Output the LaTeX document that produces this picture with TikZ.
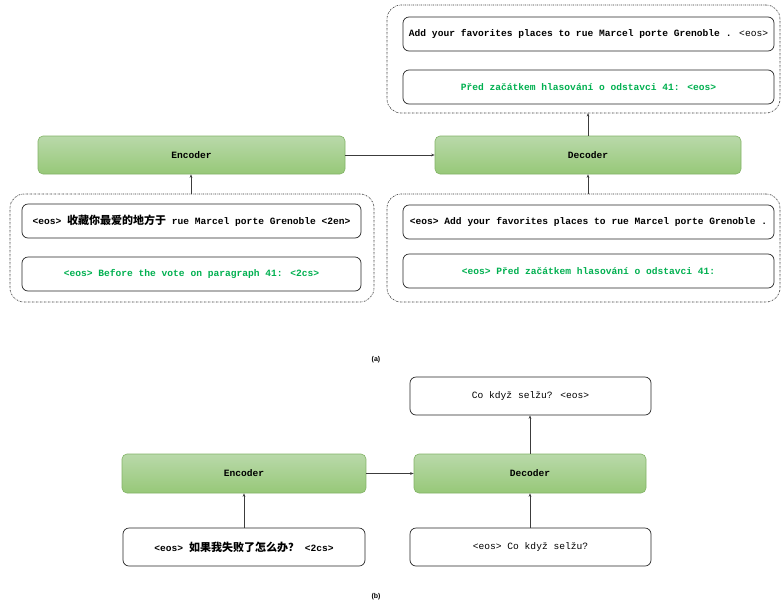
\documentclass[tikz,border=0pt]{standalone}
\usepackage{fontspec}
\setmainfont{Liberation Mono}
\newfontfamily\cjkfam{Noto Sans CJK SC}
\newcommand\cjk{\cjkfam\fontsize{11}{12}\selectfont}
\newfontfamily\labfont{Liberation Sans}
\usetikzlibrary{arrows.meta}
\definecolor{gfillA}{RGB}{185,217,170}
\definecolor{gfillB}{RGB}{151,200,120}
\definecolor{gborder}{RGB}{130,179,102}
\definecolor{gtext}{RGB}{0,176,80}
\definecolor{lgray}{RGB}{60,60,60}
\tikzset{
  coder/.style={draw=gborder, line width=0.6pt, rounded corners=5pt, top color=gfillA, bottom color=gfillB,
    font=\bfseries\fontsize{9.6}{11}\selectfont, inner sep=0pt},
  tok/.style={draw=black!85, line width=0.7pt, rounded corners=6pt, fill=white,
    font=\bfseries\fontsize{9.6}{11}\selectfont, inner sep=0pt},
  tokn/.style={tok, font=\fontsize{9.6}{11}\selectfont},
  grp/.style={draw=black!80, line width=0.6pt, rounded corners=14pt, dash pattern=on 1.5pt off 1pt on 0.5pt off 1pt, inner sep=0pt},
  arr/.style={draw=lgray, line width=0.6pt, -{Stealth[length=3.5pt,width=2.6pt]}},
  lab/.style={font=\labfont\bfseries\fontsize{7}{8}\selectfont, inner sep=0pt},
}
\begin{document}
\begin{tikzpicture}[x=1pt,y=-1pt]
\useasboundingbox (0,0) rectangle (782,606);
% ---------- (a) ----------
\node[coder, minimum width=307pt, minimum height=38pt] (enc) at (191.5,155) {Encoder};
\node[coder, minimum width=306pt, minimum height=38pt] (dec) at (588,155) {Decoder};

\node[grp, minimum width=364pt, minimum height=108pt] (g1) at (192,248) {};
\node[tok, minimum width=339pt, minimum height=34pt] (e1) at (191.5,221)
  {<eos> {\cjk 收藏你最爱的地方于} rue Marcel porte Grenoble <2en>};
\node[tok, minimum width=339pt, minimum height=34pt, text=gtext] (e2) at (191.5,274)
  {<eos> Before the vote on paragraph 41: <2cs>};

\node[grp, minimum width=393pt, minimum height=108pt] (g2) at (583.5,248) {};
\node[tok, minimum width=371pt, minimum height=34pt] (d1) at (588.5,222)
  {<eos> Add your favorites places to rue Marcel porte Grenoble .};
\node[tok, minimum width=371pt, minimum height=34pt, text=gtext] (d2) at (588.5,271)
  {<eos> Před začátkem hlasování o odstavci 41:};

\node[grp, minimum width=393pt, minimum height=108pt] (g3) at (583.5,59) {};
\node[tok, minimum width=371pt, minimum height=34pt] (o1) at (588.5,34)
  {Add your favorites places to rue Marcel porte Grenoble . {\mdseries <eos>}};
\node[tok, minimum width=371pt, minimum height=34pt, text=gtext] (o2) at (588.5,87)
  {Před začátkem hlasování o odstavci 41: <eos>};

\coordinate (g1t) at (191,194);
\coordinate (g2t) at (588,194);
\coordinate (g3b) at (588,113);
\draw[arr] (g1t) -- (g1t |- enc.south);
\draw[arr] (g2t) -- (g2t |- dec.south);
\draw[arr] (dec.north) -- (g3b);
\draw[arr] (enc.east) -- (dec.west);
\node[lab] (la) at (376,360) {(a)};

% ---------- (b) ----------
\node[coder, minimum width=244pt, minimum height=39pt] (enc2) at (244,473.5) {Encoder};
\node[coder, minimum width=232pt, minimum height=39pt] (dec2) at (530,473.5) {Decoder};
\node[tokn, minimum width=241pt, minimum height=38pt] (out) at (530.5,396) {Co když selžu? <eos>};
\node[tok, minimum width=242pt, minimum height=38pt] (in1) at (244,547)
  {<eos> {\cjk 如果我失败了怎么办？} <2cs>};
\node[tokn, minimum width=241pt, minimum height=38pt] (in2) at (530.5,547) {<eos> Co když selžu?};
\draw[arr] (in1.north) -- (enc2.south);
\draw[arr] (in2.north -| dec2.south) -- (dec2.south);
\draw[arr] (dec2.north) -- (dec2.north |- out.south);
\draw[arr] (enc2.east) -- (dec2.west);
\node[lab] (lb) at (376,597) {(b)};
\end{tikzpicture}
\end{document}
